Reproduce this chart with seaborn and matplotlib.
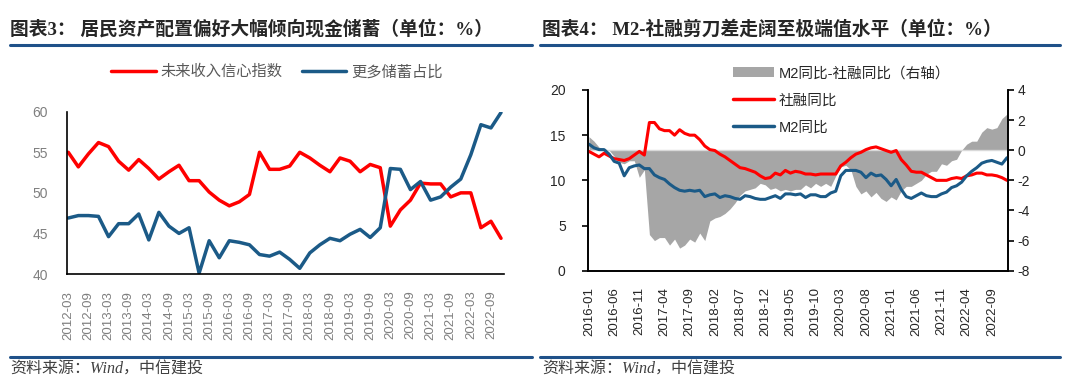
import numpy as np
import pandas as pd
import seaborn as sns
import matplotlib.pyplot as plt
from matplotlib.lines import Line2D
from matplotlib.patches import Patch

# ---- 图表3 数据（季度）----
quarters = [f"{y}-{m:02d}" for y in range(2012, 2023) for m in (3, 6, 9, 12)]
income_conf = [55.0, 53.2, 54.8, 56.2, 55.7, 53.9, 52.8, 54.1, 53.0, 51.7,
               52.6, 53.4, 51.5, 51.5, 50.1, 49.1, 48.4, 48.9, 49.8, 55.0,
               52.9, 52.9, 53.3, 55.0, 54.3, 53.4, 52.6, 54.3, 53.9, 52.6,
               53.5, 53.1, 45.9, 47.9, 49.1, 51.2, 51.1, 51.1, 49.5, 50.0,
               50.0, 45.7, 46.5, 44.4]
more_saving = [46.9, 47.2, 47.2, 47.1, 44.6, 46.2, 46.2, 47.4, 44.2, 47.6,
               45.9, 45.0, 45.7, 40.1, 44.1, 42.0, 44.1, 43.9, 43.6, 42.4,
               42.2, 42.7, 41.8, 40.7, 42.6, 43.6, 44.4, 44.1, 44.9, 45.5,
               44.5, 45.7, 53.0, 52.9, 50.4, 51.4, 49.1, 49.5, 50.7, 51.7,
               54.7, 58.4, 58.0, 59.9]

# ---- 图表4 数据（月度）----
months = [f"{y}-{m:02d}" for y in range(2016, 2023) for m in range(1, 13)]
tsf_yoy = [13.2, 12.9, 12.6, 13.0, 12.7, 12.4, 12.3, 12.2, 12.4, 12.8,
           13.2, 12.8, 16.4, 16.4, 15.7, 15.5, 15.5, 15.0, 15.6, 15.2,
           15.0, 15.0, 14.5, 13.8, 13.4, 13.3, 12.9, 12.6, 12.2, 11.8,
           11.4, 11.3, 11.1, 10.9, 10.5, 10.2, 10.3, 10.8, 10.6, 11.1,
           10.8, 11.0, 10.9, 10.7, 10.7, 10.6, 10.7, 10.7, 10.7, 10.7,
           11.6, 12.0, 12.5, 12.9, 13.1, 13.4, 13.6, 13.7, 13.5, 13.3,
           13.1, 13.3, 12.3, 11.7, 11.0, 10.9, 10.9, 10.6, 10.3, 10.0,
           10.0, 10.0, 10.2, 10.3, 10.2, 10.5, 10.6, 10.8, 10.8, 10.6,
           10.6, 10.5, 10.3, 10.0]
m2_yoy = [14.0, 13.6, 13.4, 13.4, 12.9, 12.1, 11.9, 10.5, 11.4, 11.6,
          11.7, 11.3, 11.3, 10.6, 10.3, 10.1, 9.6, 9.2, 8.9, 8.8,
          8.9, 8.8, 8.9, 8.2, 8.4, 8.5, 8.1, 8.3, 8.2, 8.0,
          7.9, 8.3, 8.2, 8.0, 7.9, 7.9, 8.1, 8.3, 8.0, 8.5,
          8.5, 8.4, 8.5, 8.1, 8.4, 8.4, 8.2, 8.2, 8.6, 8.8,
          10.5, 11.1, 11.1, 11.1, 10.9, 10.3, 10.8, 10.5, 10.6, 10.1,
          9.4, 10.1, 9.0, 8.2, 8.0, 8.3, 8.6, 8.3, 8.2, 8.2,
          8.5, 8.7, 9.2, 9.4, 9.8, 10.5, 11.0, 11.4, 11.9, 12.1,
          12.2, 12.0, 11.8, 12.5]
gap = [0.9, 0.6, 0.2, 0.1, 0.0, -0.4, -0.8, -0.9, -0.7, -0.7,
       -1.8, -1.3, -5.6, -6.0, -5.8, -5.8, -6.3, -5.9, -6.5, -6.3,
       -5.9, -6.1, -5.5, -6.0, -4.7, -4.5, -4.4, -4.2, -3.9, -3.5,
       -3.0, -2.7, -2.6, -2.5, -2.2, -2.3, -2.6, -2.5, -2.7, -2.6,
       -2.7, -2.6, -2.6, -2.3, -2.5, -2.2, -2.4, -2.2, -2.4, -1.7,
       -1.1, -1.0, -1.3, -2.4, -2.9, -2.7, -3.1, -2.8, -3.2, -3.4,
       -3.1, -3.3, -2.7, -2.4, -2.4, -2.2, -2.0, -1.6, -1.4, -1.4,
       -0.9, -1.0, -0.7, -0.6, 0.0, 0.4, 0.6, 0.6, 1.2, 1.5,
       1.4, 1.5, 2.1, 2.4]

RED = '#ff0000'
BLUE = '#1b5a87'
GREY = '#a6a6a6'
NAVY = '#1f5189'

sns.set_style('white')
plt.rcParams['font.family'] = ['Liberation Sans', 'Noto Sans CJK SC']
plt.rcParams['axes.unicode_minus'] = False

fig = plt.figure(figsize=(10.8, 3.88), dpi=100)

# ---------------- 左图 ----------------
ax1 = fig.add_axes([0.0623, 0.2938, 0.4044, 0.4183])
xq = np.arange(len(quarters))
sns.lineplot(x=xq, y=income_conf, ax=ax1, color=RED, linewidth=2.5)
sns.lineplot(x=xq, y=more_saving, ax=ax1, color=BLUE, linewidth=2.5)
ax1.set_ylim(40, 60)
ax1.set_yticks([40, 45, 50, 55, 60])
ax1.set_xlim(-0.1, 43.3)
ax1.set_xticks(xq[::2])
ax1.set_xticklabels(quarters[::2], rotation=90)
for s in ['top', 'right']:
    ax1.spines[s].set_visible(False)
for s in ['left', 'bottom']:
    ax1.spines[s].set_color('black')
    ax1.spines[s].set_linewidth(1.2)
ax1.tick_params(axis='both', direction='out', length=4, width=1.2,
                color='black', labelcolor='#7f7f7f')
ax1.tick_params(axis='y', pad=10, labelsize=10)
ax1.tick_params(axis='x', pad=8, labelsize=9.5)

fig.legend(handles=[Line2D([], [], color=RED, lw=2.5),
                    Line2D([], [], color=BLUE, lw=2.5)],
           labels=['未来收入信心指数', '更多储蓄占比'],
           loc='center', bbox_to_anchor=(277 / 1080, 1 - 72 / 388), ncol=2,
           frameon=False, fontsize=11, handlelength=2.9, handletextpad=0.3,
           columnspacing=1.3, labelcolor='#595959')

# ---------------- 右图 ----------------
ax2 = fig.add_axes([0.5444, 0.3023, 0.3889, 0.4658])
ax2r = ax2.twinx()
xm = np.arange(len(months))
ax2r.fill_between(xm, 0, gap, color=GREY, linewidth=0)
ax2r.axhline(0, color='#d9d9d9', lw=1)
sns.lineplot(x=xm, y=tsf_yoy, ax=ax2, color=RED, linewidth=2.2)
sns.lineplot(x=xm, y=m2_yoy, ax=ax2, color=BLUE, linewidth=2.2)
ax2.set_zorder(ax2r.get_zorder() + 1)
ax2.patch.set_visible(False)
ax2.set_ylim(0, 20)
ax2.set_yticks([0, 5, 10, 15, 20])
ax2r.set_ylim(-8, 4)
ax2r.set_yticks(range(-8, 5, 2))
ax2.set_xlim(-0.2, 83.2)
ax2.set_xticks(xm[::5])
ax2.set_xticklabels(months[::5], rotation=90)
for a in (ax2, ax2r):
    a.spines['top'].set_visible(False)
    for s in ['left', 'right', 'bottom']:
        a.spines[s].set_color('black')
        a.spines[s].set_linewidth(1.2)
ax2.tick_params(axis='both', direction='out', length=4, width=1.2,
                color='black', labelcolor='#262626')
ax2.tick_params(axis='y', pad=12, labelsize=10)
ax2.tick_params(axis='x', pad=8, labelsize=9.5)
ax2r.tick_params(axis='y', direction='out', length=4, width=1.2,
                 color='black', labelcolor='#262626', pad=3, labelsize=10)

ax2.legend(handles=[Patch(facecolor=GREY, edgecolor='none'),
                    Line2D([], [], color=RED, lw=2.5),
                    Line2D([], [], color=BLUE, lw=2.5)],
           labels=['M2同比-社融同比（右轴）', '社融同比', 'M2同比'],
           loc='upper left', bbox_to_anchor=(720 / 1080, 1 - 53 / 388),
           bbox_transform=fig.transFigure, frameon=False, fontsize=10.5,
           handlelength=2.8, handletextpad=0.3, labelspacing=0.9,
           labelcolor='#262626')

# ---------------- 标题与来源 ----------------
title_font = ['Liberation Serif', 'Noto Sans CJK SC']
fig.text(10 / 1080, 1 - 29 / 388, '图表3： 居民资产配置偏好大幅倾向现金储蓄（单位：%）',
         fontsize=13.5, fontweight='bold', family=title_font, va='center')
fig.text(542 / 1080, 1 - 29 / 388, '图表4： M2-社融剪刀差走阔至极端值水平（单位：%）',
         fontsize=13.5, fontweight='bold', family=title_font, va='center')
for x0, x1 in [(10, 532), (540, 1060)]:
    for y in (44.5, 357):
        fig.add_artist(Line2D([x0 / 1080, x1 / 1080], [1 - y / 388] * 2,
                              color=NAVY, lw=2.2))
for x0 in (10, 542):
    fig.text(x0 / 1080, 1 - 370 / 388, '资料来源：Wind，中信建投',
             fontsize=11.5, style='italic', family=title_font,
             color='#404040', va='center')

fig.savefig('out.png', dpi=100)
